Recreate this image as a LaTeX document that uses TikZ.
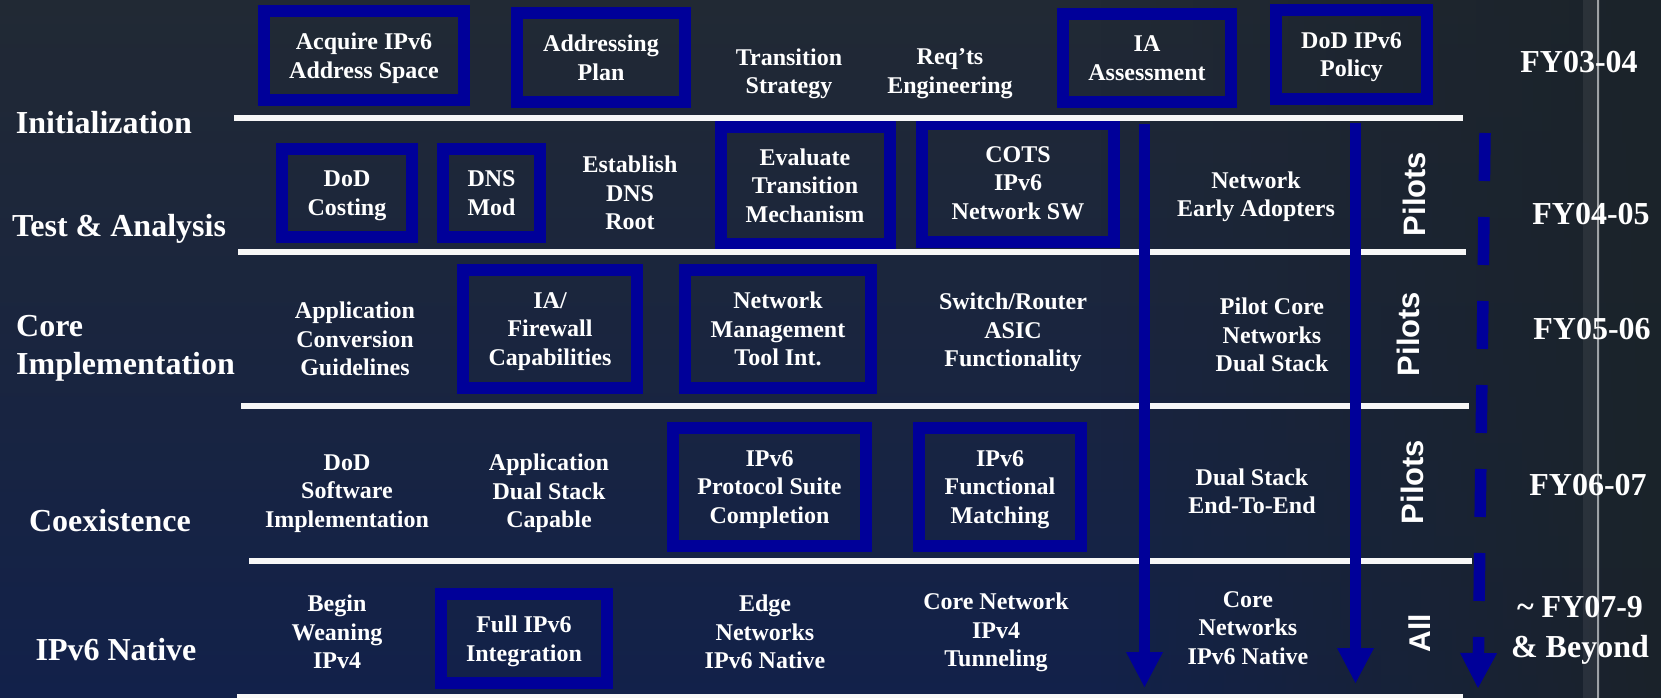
\documentclass[tikz,border=0pt]{standalone}
\usepackage{fontspec}
\setmainfont{Liberation Serif}
\setsansfont{Liberation Sans}
\usetikzlibrary{arrows.meta,fadings}

\definecolor{boxblue}{RGB}{0,0,153}
\definecolor{bgtop}{RGB}{33,41,52}
\definecolor{bgbot}{RGB}{18,33,74}
\definecolor{bgright}{RGB}{27,35,42}
\tikzfading[name=fade in east, left color=transparent!100, right color=transparent!0]

\begin{document}
\begin{tikzpicture}[x=1pt, y=-1pt,
    font=\bfseries\fontsize{24}{28.5}\selectfont, text=white,
    task/.style={draw=boxblue, line width=12pt, align=center, inner sep=0pt, text depth=0pt},
    note/.style={align=center, inner sep=0pt, text depth=0pt},
    phase/.style={font=\bfseries\fontsize{32}{38}\selectfont, align=center, inner sep=0pt},
    year/.style={font=\bfseries\fontsize{32}{40}\selectfont, align=center, inner sep=0pt},
    pilot/.style={font=\sffamily\bfseries\fontsize{31}{31}\selectfont, rotate=90, inner sep=0pt},
    sep/.style={draw=white!94!gray, line width=6pt},
    flow/.style={draw=boxblue, line width=11.5pt,
                 -{Triangle[width=37pt,length=35pt,line width=0pt]}},
]
% slide background
\useasboundingbox (0,0) rectangle (1661,698);
\fill[top color=bgtop, bottom color=bgbot] (0,0) rectangle (1661,698);
\fill[bgright, path fading=fade in east] (1100,0) rectangle (1661,698);
\fill[white, opacity=0.07] (1583,0) rectangle (1600,698);
\draw[white, opacity=0.55, line width=1.5pt] (1598,0) -- (1598,698);

% boxed tasks
\node[task, minimum width=200pt, minimum height=89pt] (acq) at (364,55.5) {Acquire IPv6\\Address Space};
\node[task, minimum width=168pt, minimum height=89pt] (addr) at (601,57.5) {Addressing\\Plan};
\node[task, minimum width=168pt, minimum height=88pt] (ia) at (1147,58) {IA\\Assessment};
\node[task, minimum width=151pt, minimum height=89pt] (pol) at (1351.5,54.5) {DoD IPv6\\Policy};
\node[task, minimum width=130pt, minimum height=88pt] (cost) at (347,193) {DoD\\Costing};
\node[task, minimum width=97pt, minimum height=88pt] (dns) at (491.5,193) {DNS\\Mod};
\node[task, minimum width=169pt, minimum height=117pt] (eval) at (805,185.5) {Evaluate\\Transition\\Mechanism};
\node[task, minimum width=192pt, minimum height=118pt] (cots) at (1018,183) {COTS\\IPv6\\Network SW};
\node[task, minimum width=174pt, minimum height=118pt] (fw) at (550,329) {IA/\\Firewall\\Capabilities};
\node[task, minimum width=186pt, minimum height=118pt] (nmt) at (778,329) {Network\\Management\\Tool Int.};
\node[task, minimum width=193pt, minimum height=118pt] (ips) at (769.5,487) {IPv6\\Protocol Suite\\Completion};
\node[task, minimum width=162pt, minimum height=118pt] (ifm) at (1000,487) {IPv6\\Functional\\Matching};
\node[task, minimum width=166pt, minimum height=89pt] (full) at (524,638.5) {Full IPv6\\Integration};

% phase separators
\foreach \ya/\xa/\xb in {118.5/234/1463, 252/238/1466, 406/241/1469, 561/249/1472, 697/237/1463}
    \draw[sep] (\xa,\ya) -- (\xb,\ya);

% plain tasks
\node[note] (trans) at (789,71) {Transition\\Strategy};
\node[note] (req) at (950,71) {Req’ts\\Engineering};
\node[note] (est) at (630,193) {Establish\\DNS\\Root};
\node[note] (early) at (1256,194) {Network\\Early Adopters};
\node[note] (conv) at (355,339) {Application\\Conversion\\Guidelines};
\node[note] (asic) at (1013,330) {Switch/Router\\ASIC\\Functionality};
\node[note] (pcore) at (1272,335) {Pilot Core\\Networks\\Dual Stack};
\node[note] (dodsw) at (347,491) {DoD\\Software\\Implementation};
\node[note] (appds) at (549,491) {Application\\Dual Stack\\Capable};
\node[note] (dsee) at (1252,491) {Dual Stack\\End-To-End};
\node[note] (wean) at (337,632) {Begin\\Weaning\\IPv4};
\node[note] (edge) at (765,632) {Edge\\Networks\\IPv6 Native};
\node[note] (tunn) at (996,630) {Core Network\\IPv4\\Tunneling};
\node[note] (cnat) at (1248,628) {Core\\Networks\\IPv6 Native};

% phases and years
\node[phase] (init) at (104,123) {Initialization};
\node[phase] (test) at (119,229) {Test \& Analysis};
\node[phase, align=left, anchor=west] (core) at (16,348) {Core\\Implementation};
\node[phase] (coex) at (110,521) {Coexistence};
\node[phase] (native) at (116,650) {IPv6 Native};

\node[year] (fy1) at (1579,62) {FY03-04};
\node[year] (fy2) at (1591,214) {FY04-05};
\node[year] (fy3) at (1592,329) {FY05-06};
\node[year] (fy4) at (1588,485) {FY06-07};
\node[year] (fy5) at (1580,630) {\textasciitilde{} FY07-9\\\& Beyond};

\node[pilot] (pil2) at (1414,194) {Pilots};
\node[pilot] (pil3) at (1408,334) {Pilots};
\node[pilot] (pil4) at (1412,482) {Pilots};
\node[pilot, font=\sffamily\bfseries\fontsize{30}{30}\selectfont] (all) at (1420,633) {All};

% roll-out arrows
\coordinate (f1top) at (1144.5,124);
\coordinate (f1end) at (1144.5,687);
\coordinate (f2top) at (1355.5,123);
\coordinate (f2end) at (1355.5,683);
\coordinate (f3top) at (1485,133);
\coordinate (f3end) at (1478,688);
\foreach \a/\b in {f1top/f1end, f2top/f2end}
    \draw[flow] (\a) -- (\b);
\draw[flow, dash pattern=on 48pt off 36pt] (f3top) -- (f3end);
\end{tikzpicture}
\end{document}
